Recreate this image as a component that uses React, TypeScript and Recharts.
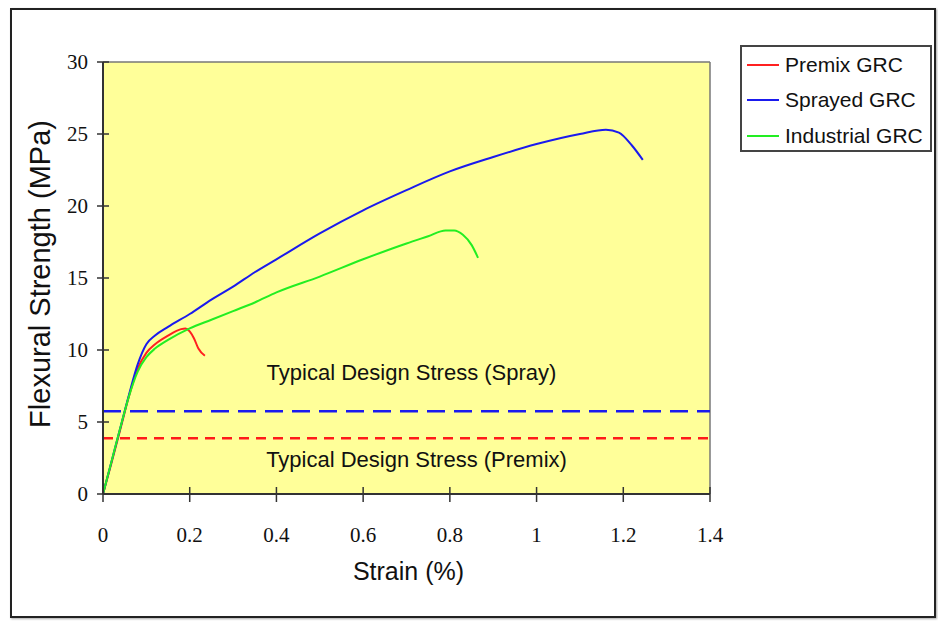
import React from 'react';
import {
  CartesianGrid,
  Legend,
  Line,
  LineChart,
  ReferenceLine,
  XAxis,
  YAxis,
} from 'recharts';

// strain (%) / flexural strength (MPa)
const premixStrain = [0, 0.02, 0.04, 0.06, 0.08, 0.1, 0.12, 0.15, 0.18, 0.19, 0.2, 0.21, 0.22, 0.235];
const premixStress = [0, 2.2, 4.5, 6.8, 8.7, 9.8, 10.4, 11.0, 11.45, 11.5, 11.3, 10.8, 10.1, 9.6];

const sprayedStrain = [0, 0.02, 0.04, 0.06, 0.08, 0.1, 0.12, 0.15, 0.2, 0.25, 0.3, 0.35, 0.4, 0.5, 0.6, 0.7, 0.8, 0.9, 1.0, 1.1, 1.16, 1.19, 1.22, 1.245];
const sprayedStress = [0, 2.3, 4.6, 6.9, 9.0, 10.4, 11.0, 11.6, 12.5, 13.5, 14.4, 15.4, 16.3, 18.1, 19.7, 21.1, 22.4, 23.4, 24.3, 25.0, 25.3, 25.1, 24.2, 23.2];

const industrialStrain = [0, 0.02, 0.04, 0.06, 0.08, 0.1, 0.12, 0.15, 0.2, 0.25, 0.3, 0.35, 0.4, 0.5, 0.6, 0.7, 0.75, 0.79, 0.81, 0.83, 0.85, 0.865];
const industrialStress = [0, 2.3, 4.6, 6.8, 8.5, 9.5, 10.1, 10.7, 11.5, 12.1, 12.7, 13.3, 14.0, 15.1, 16.3, 17.4, 17.9, 18.3, 18.3, 18.0, 17.3, 16.4];

const seriesNames = ['Premix GRC', 'Sprayed GRC', 'Industrial GRC'];

const sprayDesignStress = 5.75;
const premixDesignStress = 3.87;

const xTicks = [0, 0.2, 0.4, 0.6, 0.8, 1, 1.2, 1.4];
const yTicks = [0, 5, 10, 15, 20, 25, 30];

const toPoints = (xs: number[], ys: number[]) => xs.map((x, i) => ({ x, y: ys[i] }));

const premixData = toPoints(premixStrain, premixStress);
const sprayedData = toPoints(sprayedStrain, sprayedStress);
const industrialData = toPoints(industrialStrain, industrialStress);

const SERIF = '"Liberation Serif", "Times New Roman", serif';
const SANS = '"Liberation Sans", Arial, sans-serif';

const XTick = (props: any) => {
  const { x, y, payload } = props;
  const axisY = y - 34;
  return (
    <g>
      <line x1={x} x2={x} y1={axisY - 7} y2={axisY + 8} stroke="#333" strokeWidth={1.5} />
      <text x={x} y={y + 14} textAnchor="middle" fontFamily={SERIF} fontSize={21} fill="#111">
        {payload.value}
      </text>
    </g>
  );
};

const YTick = (props: any) => {
  const { x, y, payload } = props;
  const axisX = x + 15;
  return (
    <g>
      <line x1={axisX - 6} x2={axisX + 6} y1={y} y2={y} stroke="#333" strokeWidth={1.5} />
      <text x={x} y={y + 7} textAnchor="end" fontFamily={SERIF} fontSize={21} fill="#111">
        {payload.value}
      </text>
    </g>
  );
};

const LegendBox = (props: any) => {
  const items = [...(props.payload || [])].sort(
    (a: any, b: any) => seriesNames.indexOf(a.value) - seriesNames.indexOf(b.value)
  );
  return (
    <div
      style={{
        width: 188,
        height: 103,
        border: '2px solid #444',
        background: '#fff',
        boxSizing: 'content-box',
        fontFamily: SANS,
        fontSize: 21,
        color: '#111',
      }}
    >
      {items.map((entry: any) => (
        <div key={entry.value} style={{ display: 'flex', alignItems: 'center', height: 35.5 }}>
          <span style={{ display: 'inline-block', width: 32, height: 2, background: entry.color, marginLeft: 5, marginRight: 6 }} />
          <span>{entry.value}</span>
        </div>
      ))}
    </div>
  );
};

export default function App() {
  return (
    <div style={{ position: 'absolute', left: 0, top: 0, width: 938, height: 622, background: '#fff' }}>
      <div
        style={{
          position: 'absolute',
          left: 10,
          top: 8,
          width: 922,
          height: 606,
          border: '2px solid #222',
          boxShadow: '1px 1px 2px rgba(0,0,0,0.35)',
        }}
      />
      <div style={{ position: 'absolute', left: 0, top: 0 }}>
        <LineChart width={938} height={622} margin={{ top: 62, right: 228, left: 0, bottom: 68 }}>
          <CartesianGrid horizontal={false} vertical={false} fill="#FFFF99" fillOpacity={1} />
          <XAxis
            type="number"
            dataKey="x"
            domain={[0, 1.4]}
            ticks={xTicks}
            allowDataOverflow
            height={60}
            axisLine={{ stroke: '#333', strokeWidth: 2 }}
            tickLine={false}
            tickSize={8}
            tickMargin={26}
            tick={<XTick />}
            label={{
              content: (p: any) => (
                <text
                  x={p.viewBox.x + p.viewBox.width / 2 + 2}
                  y={p.viewBox.y + 86}
                  textAnchor="middle"
                  fontFamily={SANS}
                  fontSize={25}
                  fill="#111"
                >
                  Strain (%)
                </text>
              ),
            }}
          />
          <YAxis
            type="number"
            dataKey="y"
            domain={[0, 30]}
            ticks={yTicks}
            allowDataOverflow
            width={103}
            axisLine={{ stroke: '#333', strokeWidth: 2 }}
            tickLine={false}
            tickSize={6}
            tickMargin={9}
            tick={<YTick />}
            label={{
              content: (p: any) => {
                const cx = 50;
                const cy = p.viewBox.y + p.viewBox.height / 2 - 4;
                return (
                  <text
                    x={cx}
                    y={cy}
                    transform={`rotate(-90, ${cx}, ${cy})`}
                    textAnchor="middle"
                    fontFamily={SANS}
                    fontSize={29}
                    fill="#111"
                  >
                    Flexural Strength (MPa)
                  </text>
                );
              },
            }}
          />
          <ReferenceLine y={30} stroke="#777" strokeWidth={1.5} />
          <ReferenceLine x={1.4} stroke="#777" strokeWidth={1.5} />
          <ReferenceLine
            y={sprayDesignStress}
            stroke="#1a1aee"
            strokeWidth={2.5}
            strokeDasharray="18 9"
            label={{
              content: (p: any) => (
                <text
                  x={p.viewBox.x + p.viewBox.width / 2 + 5}
                  y={p.viewBox.y - 31}
                  textAnchor="middle"
                  fontFamily={SANS}
                  fontSize={22}
                  fill="#111"
                >
                  Typical Design Stress (Spray)
                </text>
              ),
            }}
          />
          <ReferenceLine
            y={premixDesignStress}
            stroke="#ff1a1a"
            strokeWidth={2.5}
            strokeDasharray="10 7"
            label={{
              content: (p: any) => (
                <text
                  x={p.viewBox.x + p.viewBox.width / 2 + 10}
                  y={p.viewBox.y + 29}
                  textAnchor="middle"
                  fontFamily={SANS}
                  fontSize={22}
                  fill="#111"
                >
                  Typical Design Stress (Premix)
                </text>
              ),
            }}
          />
          <Line
            data={premixData}
            dataKey="y"
            name={seriesNames[0]}
            type="monotone"
            stroke="#ff2020"
            strokeWidth={2}
            dot={false}
            isAnimationActive={false}
          />
          <Line
            data={sprayedData}
            dataKey="y"
            name={seriesNames[1]}
            type="monotone"
            stroke="#1a1aee"
            strokeWidth={2}
            dot={false}
            isAnimationActive={false}
          />
          <Line
            data={industrialData}
            dataKey="y"
            name={seriesNames[2]}
            type="monotone"
            stroke="#22ee22"
            strokeWidth={2}
            dot={false}
            isAnimationActive={false}
          />
          <Legend
            layout="vertical"
            align="center"
            verticalAlign="middle"
            content={<LegendBox />}
            wrapperStyle={{ left: 740, top: 45, width: 192, height: 107 }}
          />
        </LineChart>
      </div>
    </div>
  );
}
